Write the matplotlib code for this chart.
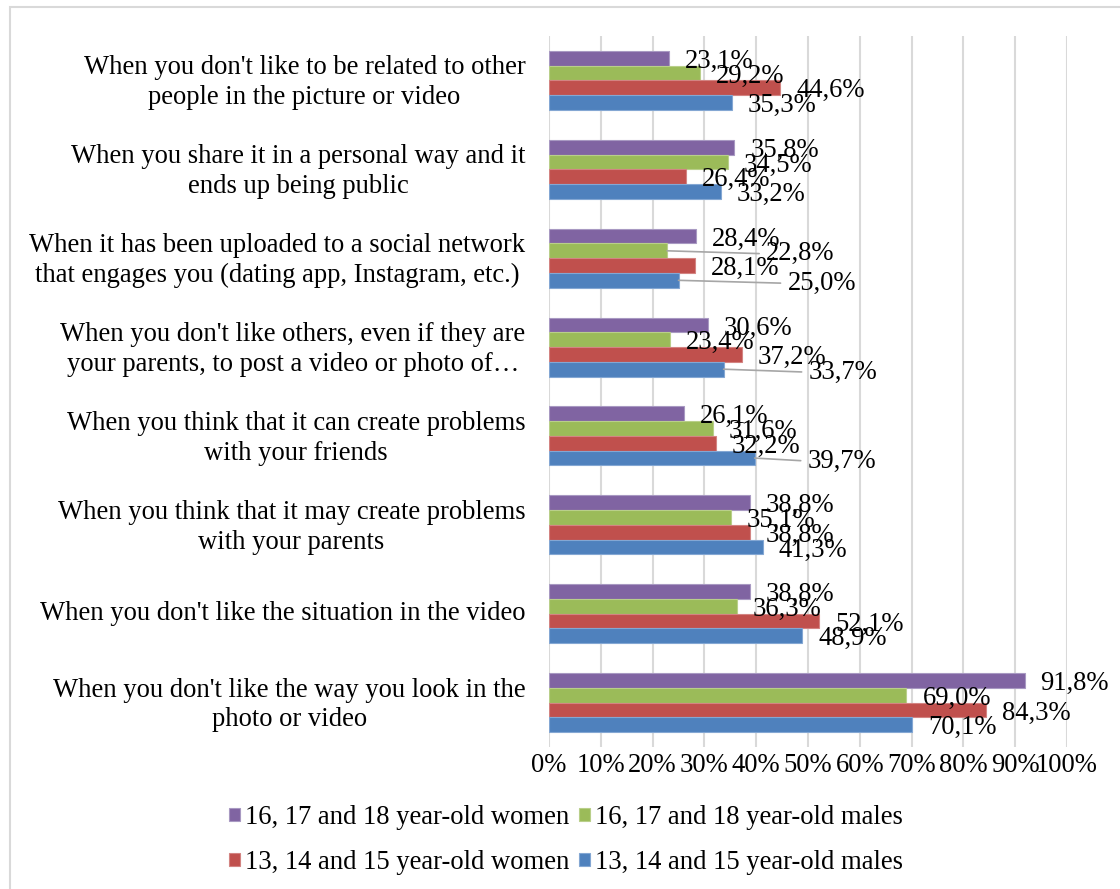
import numpy as np
import matplotlib
matplotlib.use("Agg")
import matplotlib.pyplot as plt
from matplotlib.patches import Rectangle
from matplotlib.transforms import ScaledTranslation

plt.rcParams['font.family'] = ['Liberation Serif', 'DejaVu Serif']

categories = [
    "When you don't like to be related to other\npeople in the picture or video",
    "When you share it in a personal way and it\nends up being public",
    "When it has been uploaded to a social network\nthat engages you (dating app, Instagram, etc.)",
    "When you don't like others, even if they are\nyour parents, to post a video or photo of…",
    "When you think that it can create problems\nwith your friends",
    "When you think that it may create problems\nwith your parents",
    "When you don't like the situation in the video",
    "When you don't like the way you look in the\nphoto or video",
]

women_16_18 = [23.1, 35.8, 28.4, 30.6, 26.1, 38.8, 38.8, 91.8]
males_16_18 = [29.2, 34.5, 22.8, 23.4, 31.6, 35.1, 36.3, 69.0]
women_13_15 = [44.6, 26.4, 28.1, 37.2, 32.2, 38.8, 52.1, 84.3]
males_13_15 = [35.3, 33.2, 25.0, 33.7, 39.7, 41.3, 48.9, 70.1]

series_names = ["16, 17 and 18 year-old women", "16, 17 and 18 year-old males",
                "13, 14 and 15 year-old women", "13, 14 and 15 year-old males"]
x_ticks = [0, 10, 20, 30, 40, 50, 60, 70, 80, 90, 100]

series = [women_16_18, males_16_18, women_13_15, males_13_15]
colors = ["#8064A2", "#9BBB59", "#C0504D", "#4F81BD"]
edges = ["#A899C2", "#B9CF8A", "#D38482", "#84A7D3"]

# extra label push (pixels) for the labels Excel moved aside with leader lines
label_shift = {(2, 1): 83, (2, 3): 93, (3, 3): 69, (4, 3): 37}

fig = plt.figure(figsize=(11.2, 8.89), dpi=100)
ax = fig.add_axes([549 / 1120, 142 / 889, 518 / 1120, 711 / 889])

n = len(categories)
base = np.arange(n)[::-1]
h = 0.166
offsets = [1.5 * h, 0.5 * h, -0.5 * h, -1.5 * h]
fs = 19.2

bars = []
for k, vals in enumerate(series):
    b = ax.barh(base + offsets[k], vals, height=h, color=colors[k],
                edgecolor=edges[k], linewidth=0.8, label=series_names[k], zorder=3)
    bars.append(b)
    for i, v in enumerate(vals):
        extra = label_shift.get((i, k), 0)
        txt = f"{v:.1f}%".replace(".", ",")
        if extra:
            ax.annotate(txt, xy=(v, base[i] + offsets[k]), xytext=(16 + extra, -3),
                        textcoords="offset pixels", ha="left", va="center", fontsize=fs,
                        zorder=5, annotation_clip=False,
                        arrowprops=dict(arrowstyle="-", color="#A6A6A6", lw=1.2,
                                        shrinkA=3, shrinkB=0, relpos=(0, 0.5)))
        else:
            ax.annotate(txt, xy=(v, base[i] + offsets[k]), xytext=(16, -3),
                        textcoords="offset pixels", ha="left", va="center", fontsize=fs,
                        zorder=5, annotation_clip=False)

ax.set_xlim(0, 100)
ax.set_ylim(-0.5, n - 0.5)
ax.set_xticks(x_ticks)
ax.set_xticklabels([f"{t}%" for t in x_ticks], fontsize=fs)
ax.set_yticks(base)
ax.set_yticklabels(categories, fontsize=fs, multialignment="center", linespacing=1.25)
ax.tick_params(axis="both", length=0)
ax.tick_params(axis="y", pad=17)
ax.tick_params(axis="x", pad=4)
nudge = ScaledTranslation(0, 3 / 100, fig.dpi_scale_trans)
for lab in ax.get_yticklabels():
    lab.set_transform(lab.get_transform() + nudge)
ax.grid(axis="x", color="#D9D9D9", lw=1.5, zorder=0)
ax.set_axisbelow(True)
for s in ax.spines.values():
    s.set_visible(False)

# chart frame (runs off the right and bottom edge)
fig.patches.append(Rectangle((10 / 1120, -0.05), 1.2, (889 - 7) / 889 + 0.05,
                             transform=fig.transFigure, fill=False,
                             edgecolor="#D9D9D9", lw=1.5))

handles = [bars[0], bars[2], bars[1], bars[3]]
labels = [series_names[0], series_names[2], series_names[1], series_names[3]]
fig.legend(handles, labels, loc="center", bbox_to_anchor=(566 / 1120, 49 / 889),
           ncol=2, frameon=False, fontsize=fs, handlelength=0.4, handleheight=0.4,
           handletextpad=0.2, columnspacing=0.35, labelspacing=0.75)

fig.savefig("out.png", dpi=100)
